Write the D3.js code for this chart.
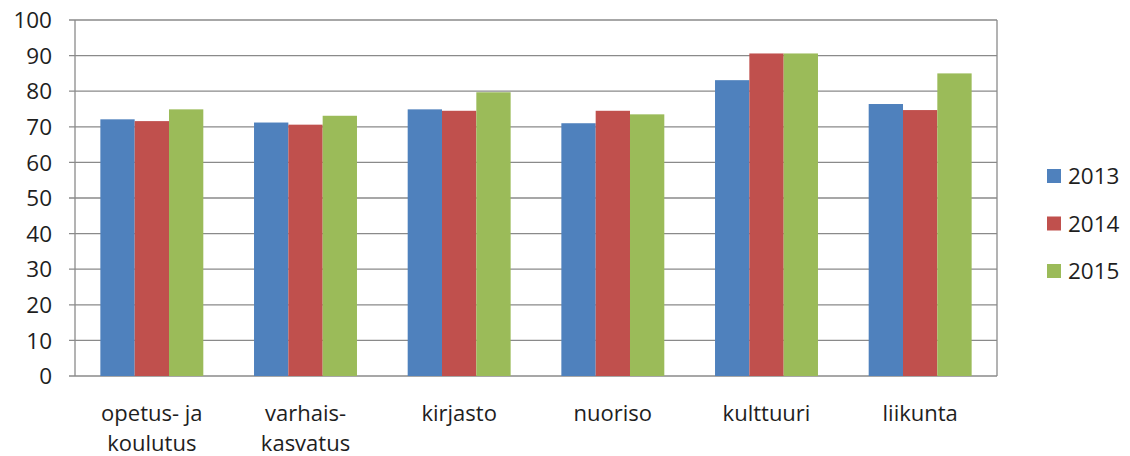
<!DOCTYPE html>
<html><head><meta charset="utf-8">
<script src="https://cdn.jsdelivr.net/npm/d3@7"></script>
<style>body{margin:0;background:#fff}svg{display:block}text{font-family:"Open Sans",sans-serif;fill:#1e1e1e}</style>
</head><body><svg id="c" width="1130" height="456"></svg>
<script>
const categories = [["opetus- ja","koulutus"],["varhais-","kasvatus"],["kirjasto"],["nuoriso"],["kulttuuri"],["liikunta"]];
const seriesNames = ["2013","2014","2015"];
const v2013 = [72.1, 71.2, 74.9, 71.0, 83.1, 76.4];
const v2014 = [71.6, 70.6, 74.5, 74.5, 90.6, 74.7];
const v2015 = [74.9, 73.1, 79.7, 73.5, 90.6, 85.0];
const yTicks = [0,10,20,30,40,50,60,70,80,90,100];
const colors = ["#4F81BD","#C0504D","#9BBB59"];
const series = [v2013, v2014, v2015];

const svg = d3.select("#c");
const L = 75, R = 997, T = 20, B = 376;
const x = d3.scaleBand().domain(d3.range(categories.length)).range([L, R]).paddingInner(0.33).paddingOuter(0.165);
const xs = d3.scaleBand().domain(d3.range(series.length)).range([0, x.bandwidth()]);
const y = d3.scaleLinear().domain([0, 100]).range([B, T]);

svg.append("g").selectAll("line").data(yTicks).join("line")
  .attr("x1", L - 6).attr("x2", R).attr("y1", d => y(d)).attr("y2", d => y(d))
  .attr("stroke", "#8a8a8a").attr("stroke-width", 1.3);
svg.append("line").attr("x1", L).attr("x2", L).attr("y1", T).attr("y2", B).attr("stroke", "#8a8a8a").attr("stroke-width", 1.3);
svg.append("line").attr("x1", R).attr("x2", R).attr("y1", T).attr("y2", B).attr("stroke", "#8a8a8a").attr("stroke-width", 1.3);

svg.append("g").selectAll("text").data(yTicks).join("text")
  .attr("x", 52).attr("y", d => y(d)).attr("dy", "0.36em").attr("text-anchor", "end")
  .attr("font-size", 22.5).text(d => d);

series.forEach((s, si) => {
  svg.append("g").selectAll("rect").data(s).join("rect")
    .attr("x", (d, i) => x(i) + xs(si)).attr("width", xs.bandwidth())
    .attr("y", d => y(d)).attr("height", d => y(0) - y(d)).attr("fill", colors[si]);
});

const xl = svg.append("g").selectAll("text").data(categories).join("text")
  .attr("text-anchor", "middle").attr("font-size", 22)
  .attr("transform", (d, i) => `translate(${x(i) + x.bandwidth() / 2},421)`);
xl.selectAll("tspan").data(d => d).join("tspan").attr("x", 0).attr("y", (d, i) => i * 30).text(d => d);

const lg = svg.append("g").selectAll("g").data(seriesNames).join("g")
  .attr("transform", (d, i) => `translate(1047,${176 + i * 47.5})`);
lg.append("rect").attr("x", 0).attr("y", -7).attr("width", 14).attr("height", 14).attr("fill", (d, i) => colors[i]);
lg.append("text").attr("x", 21).attr("dy", "0.36em").attr("font-size", 22.5).text(d => d);
</script></body></html>
